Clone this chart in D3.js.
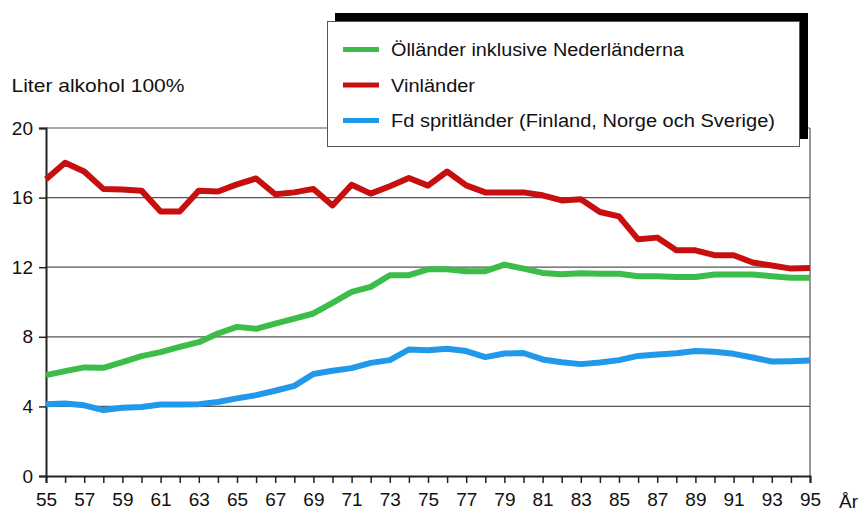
<!DOCTYPE html>
<html><head><meta charset="utf-8">
<script src="https://cdn.jsdelivr.net/npm/d3@7"></script>
<style>
html,body{margin:0;padding:0;background:#fff;}
svg{display:block;font-family:"Liberation Sans",Arial,sans-serif;}
</style></head>
<body>
<svg id="chart" width="864" height="511"></svg>
<script>
const years = d3.range(55, 96);
const olLander = [5.8,6.03,6.24,6.22,6.54,6.89,7.12,7.42,7.69,8.19,8.57,8.46,8.76,9.05,9.34,9.95,10.58,10.87,11.54,11.54,11.88,11.88,11.77,11.77,12.15,11.92,11.67,11.6,11.65,11.62,11.62,11.48,11.48,11.44,11.44,11.58,11.58,11.58,11.48,11.39,11.39];
const vinLander = [17.05,18.0,17.5,16.5,16.47,16.4,15.2,15.2,16.4,16.35,16.76,17.1,16.19,16.3,16.5,15.55,16.74,16.23,16.65,17.13,16.69,17.5,16.7,16.3,16.3,16.3,16.13,15.84,15.9,15.17,14.92,13.6,13.7,12.97,12.97,12.69,12.69,12.27,12.1,11.92,11.96];
const spritLander = [4.13,4.17,4.06,3.79,3.92,3.96,4.11,4.11,4.13,4.25,4.46,4.65,4.9,5.18,5.86,6.05,6.2,6.5,6.66,7.27,7.23,7.31,7.18,6.83,7.04,7.07,6.7,6.54,6.43,6.52,6.66,6.9,6.98,7.06,7.18,7.14,7.02,6.81,6.58,6.6,6.64];
const seriesNames = ["Ölländer inklusive Nederländerna","Vinländer","Fd spritländer (Finland, Norge och Sverige)"];
const seriesColors = ["#3cbc48","#c80f0f","#2298ea"];
const yTicks = [0,4,8,12,16,20];
const xLabelYears = d3.range(55, 96, 2);
const yTitle = "Liter alkohol 100%";
const xTitle = "År";

const svg = d3.select("#chart");
const x = d3.scaleLinear().domain([55,95]).range([46,810]);
const y = d3.scaleLinear().domain([0,20]).range([476,128]);

// gridlines
svg.append("g").selectAll("line").data(yTicks.filter(d=>d>0)).join("line")
  .attr("x1", x(55)).attr("x2", x(95))
  .attr("y1", d=>y(d)).attr("y2", d=>y(d))
  .attr("stroke","#555").attr("stroke-width",1.2);
// right border
svg.append("line").attr("x1",x(95)).attr("x2",x(95)).attr("y1",y(20)).attr("y2",y(0))
  .attr("stroke","#555").attr("stroke-width",1.2);

// y axis
const yAxis = d3.axisLeft(y).tickValues(yTicks).tickSize(7).tickPadding(6).tickFormat(d3.format("d"));
const gy = svg.append("g").attr("transform",`translate(${x(55)},0)`).call(yAxis);
gy.select(".domain").attr("stroke","#222").attr("stroke-width",2);
gy.selectAll(".tick line").attr("stroke","#222").attr("stroke-width",1.5);
gy.selectAll(".tick text").attr("font-size",19).attr("fill","#111").attr("font-family","Liberation Sans, Arial, sans-serif");

// x axis
const xAxis = d3.axisBottom(x).tickValues(years).tickSize(7).tickPadding(10)
  .tickFormat(d => xLabelYears.includes(d) ? String(d) : "");
const gx = svg.append("g").attr("transform",`translate(0,${y(0)})`).call(xAxis);
gx.select(".domain").attr("stroke","#222").attr("stroke-width",2);
gx.selectAll(".tick line").attr("stroke","#222").attr("stroke-width",1.5);
gx.selectAll(".tick text").attr("font-size",19).attr("fill","#111").attr("font-family","Liberation Sans, Arial, sans-serif");

// titles
svg.append("text").attr("x",11.5).attr("y",91.5).attr("font-size",19).attr("fill","#111")
  .attr("textLength",173).attr("lengthAdjust","spacingAndGlyphs").text(yTitle);
svg.append("text").attr("x",839).attr("y",508).attr("font-size",19).attr("fill","#111").text(xTitle);

// lines
const line = d3.line().x((d,i)=>x(years[i])).y(d=>y(d));
const allSeries = [olLander, vinLander, spritLander];
svg.append("g").selectAll("path").data(allSeries).join("path")
  .attr("d", d=>line(d)).attr("fill","none")
  .attr("stroke",(d,i)=>seriesColors[i]).attr("stroke-width",6)
  .attr("stroke-linejoin","round");

// legend
const legendWidths = [293, 84, 384];
const lg = svg.append("g");
lg.append("rect").attr("x",335).attr("y",13).attr("width",473).attr("height",126).attr("fill","#000");
lg.append("rect").attr("x",327.5).attr("y",21.5).attr("width",472).attr("height",125).attr("fill","#fff").attr("stroke","#555").attr("stroke-width",1);
const rows = lg.selectAll("g.row").data(seriesNames).join("g").attr("class","row")
  .attr("transform",(d,i)=>`translate(0,${49.5 + i*35.5})`);
rows.append("line").attr("x1",343).attr("x2",379).attr("y1",0).attr("y2",0)
  .attr("stroke",(d,i)=>seriesColors[i]).attr("stroke-width",5);
rows.append("text").attr("x",391).attr("y",6.8).attr("font-size",18).attr("fill","#111")
  .attr("textLength",(d,i)=>legendWidths[i]).attr("lengthAdjust","spacingAndGlyphs").text(d=>d);
</script>
</body></html>
